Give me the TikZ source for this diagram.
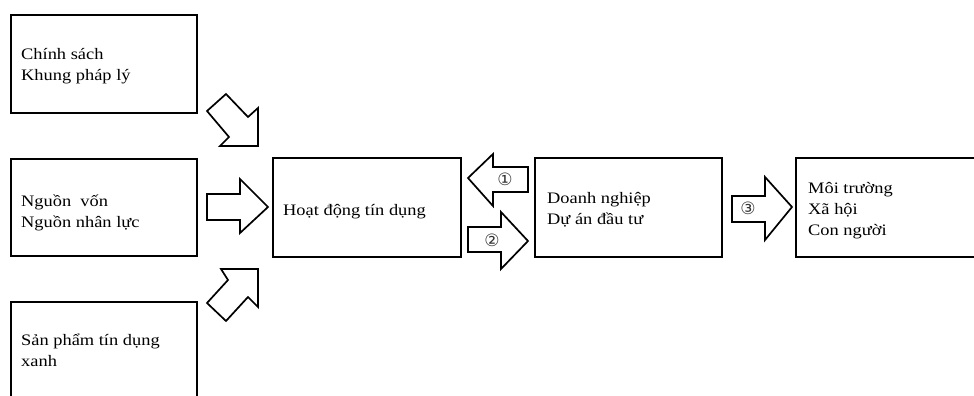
\documentclass[tikz,border=0pt]{standalone}
\usepackage{fontspec}
\setmainfont{Liberation Serif}[FakeStretch=1.15]
\newfontfamily\circfont{DejaVu Sans}
\begin{document}
\begin{tikzpicture}[x=1pt,y=-1pt,
  box/.style={draw=black, line width=1.9pt, fill=white},
  blockarrow/.style={draw=black, line width=1.7pt, line join=miter, fill=white},
  txt/.style={anchor=base west, inner sep=0pt, align=left, font=\fontsize{16}{21}\selectfont},
  num/.style={inner sep=0pt, font=\circfont\fontsize{17}{17}\selectfont, text=black!80}]
\useasboundingbox (0,0) rectangle (974,396);
\clip (0,0) rectangle (974,396);
\fill[white] (0,0) rectangle (974,396);
% boxes
\draw[box] (11,15) rectangle (197,113);
\draw[box] (11,159) rectangle (197,256);
\draw[box] (11,302) rectangle (197,410);
\draw[box] (273,158) rectangle (461,257);
\draw[box] (535,158) rectangle (722,257);
\draw[box] (796,158) rectangle (990,257);
% texts (base = baseline of last line)
\node[txt] (t1) at (21,81) {Chính sách\\Khung pháp lý};
\node[txt] (t2) at (21,227) {Nguồn~ vốn\\Nguồn nhân lực};
\node[txt] (t3) at (21,366) {Sản phẩm tín dụng\\xanh};
\node[txt] (t4) at (283,215) {Hoạt động tín dụng};
\node[txt] (t5) at (547,224) {Doanh nghiệp\\Dự án đầu tư};
\node[txt] (t6) at (808,235) {Môi trường\\Xã hội\\Con người};
% block arrows
\draw[blockarrow] (207,111) -- (226,94) -- (248,117) -- (258,108) -- (258,146) -- (220,146) -- (229,137) -- cycle;
\draw[blockarrow] (207,194) -- (240,194) -- (240,179) -- (268,207) -- (240,233) -- (240,220) -- (207,220) -- cycle;
\draw[blockarrow] (207,303) -- (228,280) -- (221,269) -- (258,269) -- (258,307) -- (248,297) -- (226,321) -- cycle;
\draw[blockarrow] (528,167) -- (493,167) -- (493,154) -- (468,178) -- (493,206) -- (493,192) -- (528,192) -- cycle;
\draw[blockarrow] (468,227) -- (501,227) -- (501,212) -- (528,241) -- (501,269) -- (501,252) -- (468,252) -- cycle;
\draw[blockarrow] (732,196) -- (765,196) -- (765,177) -- (792,207) -- (765,240) -- (765,222) -- (732,222) -- cycle;
\node[num] (n1) at (505,179) {①};
\node[num] (n2) at (492,240) {②};
\node[num] (n3) at (748,208) {③};
\end{tikzpicture}
\end{document}
